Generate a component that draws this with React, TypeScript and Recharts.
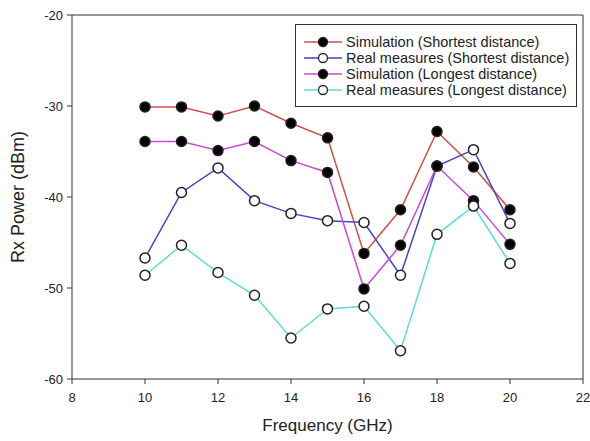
import { LineChart, Line, XAxis, YAxis, ReferenceLine } from 'recharts'

const freqs = [10, 11, 12, 13, 14, 15, 16, 17, 18, 19, 20]
const simShort = [-30.1, -30.1, -31.1, -30.0, -31.9, -33.5, -46.2, -41.4, -32.8, -36.7, -41.4]
const realShort = [-46.7, -39.5, -36.8, -40.4, -41.8, -42.6, -42.8, -48.6, -36.6, -34.8, -42.9]
const simLong = [-33.9, -33.9, -34.9, -33.9, -36.0, -37.3, -50.1, -45.3, -36.6, -40.4, -45.2]
const realLong = [-48.6, -45.3, -48.3, -50.8, -55.5, -52.3, -52.0, -56.9, -44.1, -41.0, -47.3]

const xTicks = [8, 10, 12, 14, 16, 18, 20, 22]
const yTicks = [-60, -50, -40, -30, -20]

const series = [
  { key: 'simShort', name: 'Simulation (Shortest distance)', color: '#d0504a', filled: true },
  { key: 'realShort', name: 'Real measures (Shortest distance)', color: '#4a42c8', filled: false },
  { key: 'simLong', name: 'Simulation (Longest distance)', color: '#c84ad8', filled: true },
  { key: 'realLong', name: 'Real measures (Longest distance)', color: '#5cdcdc', filled: false },
]

const data = freqs.map((f, i) => ({
  freq: f,
  simShort: simShort[i],
  realShort: realShort[i],
  simLong: simLong[i],
  realLong: realLong[i],
}))

const font = 'Arial, "Liberation Sans", sans-serif'
const tickStyle = { fontSize: 13, fill: '#222', fontFamily: font }

function LegendBox() {
  return (
    <div
      style={{
        position: 'absolute',
        left: 295,
        top: 24,
        width: 282,
        height: 83,
        border: '1.5px solid #333',
        boxSizing: 'border-box',
        background: '#fff',
        fontFamily: font,
        fontSize: 14.5,
        color: '#222',
        paddingTop: 9,
      }}
    >
      {series.map((s) => (
        <div key={s.key} style={{ display: 'flex', alignItems: 'center', height: 16 }}>
          <svg width={44} height={14} style={{ marginLeft: 6 }}>
            <line x1={2} y1={7} x2={40} y2={7} stroke={s.color} strokeWidth={1.5} />
            <circle cx={21} cy={7} r={4.5} fill={s.filled ? '#000' : '#fff'} stroke="#222" strokeWidth={1.3} />
          </svg>
          <span>{s.name}</span>
        </div>
      ))}
    </div>
  )
}

export default function App() {
  return (
    <div style={{ position: 'absolute', left: 0, top: 0, width: 590, height: 441, background: '#fff' }}>
      <LineChart width={590} height={441} data={data} margin={{ top: 15, right: 7, left: 12, bottom: 7 }}>
        <XAxis
          dataKey="freq"
          type="number"
          domain={[8, 22]}
          ticks={xTicks}
          tick={tickStyle}
          tickSize={5}
          tickMargin={9}
          stroke="#333"
          height={55}
          label={{ value: 'Frequency (GHz)', position: 'insideBottom', offset: 3, style: { fontSize: 17, fill: '#222', fontFamily: font } }}
        />
        <YAxis
          type="number"
          domain={[-60, -20]}
          ticks={yTicks}
          tick={tickStyle}
          tickSize={5}
          tickMargin={4}
          stroke="#333"
          width={60}
          label={{ value: 'Rx Power (dBm)', angle: -90, position: 'insideLeft', offset: 0, dx: 6, style: { fontSize: 18, fill: '#222', fontFamily: font, textAnchor: 'middle' } }}
        />
        <ReferenceLine y={-20} stroke="#333" />
        <ReferenceLine x={22} stroke="#333" />
        {series.map((s) => (
          <Line
            key={s.key}
            dataKey={s.key}
            name={s.name}
            stroke={s.color}
            strokeWidth={1.5}
            isAnimationActive={false}
            dot={{ r: 5, fill: s.filled ? '#000' : '#fff', stroke: '#222', strokeWidth: 1.5 }}
            activeDot={false}
          />
        ))}
      </LineChart>
      <LegendBox />
    </div>
  )
}
